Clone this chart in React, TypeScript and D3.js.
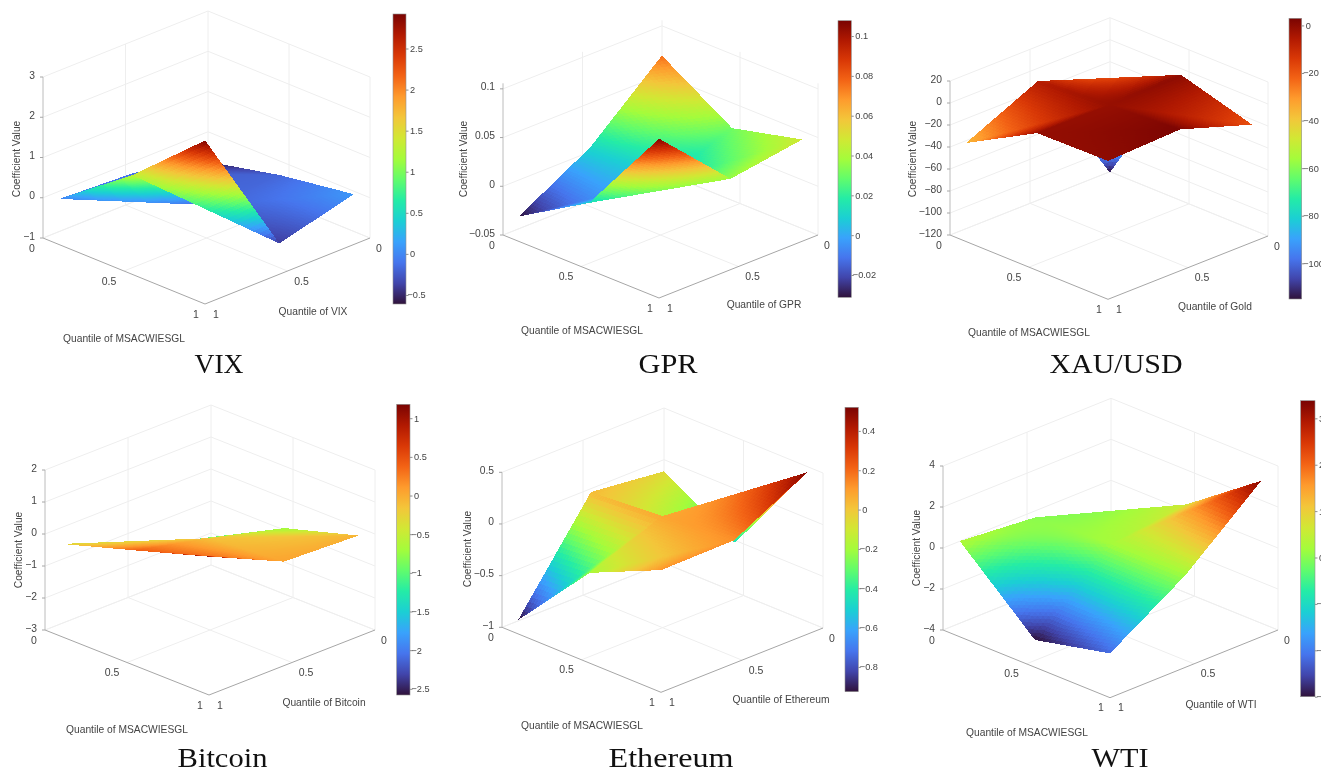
import * as d3 from 'd3'
import { useRef, useEffect } from 'react'

// quantile grid of the estimated surfaces
const msQuantiles = [0.05, 0.5, 0.95]
const otherQuantiles = [0.05, 0.5, 0.95]

// coefficient surfaces, rows = MSACWIESGL quantile, columns = asset quantile
const vixSurface = [[-0.58, -0.12, -0.03], [-0.18, -0.18, 1.3], [0.09, -0.4, 2.9]]
const gprSurface = [[0.076, 0.011, -0.031], [0.0306, 0.005, 0.012], [0.048, 0.0368, 0.107]]
const goldSurface = [[-115, -5.9, -36.4], [0.2, -1.3, -1], [-18.8, 2.7, 0]]
const bitcoinSurface = [[-2.55, -1.3, -0.31], [-0.73, -0.13, 0.4], [-0.05, 0.05, 1.12]]
const ethereumSurface = [[-0.05, 0.03, -0.93], [-0.455, 0.08, -0.19], [0.506, 0.128, 0.12]]
const wtiSurface = [[-1.5, 0.01, 0.34], [0.64, 0.2, -3], [3.28, 0.17, -2.17]]

const vixTicks = [-1, 0, 1, 2, 3]
const gprTicks = [-0.05, 0, 0.05, 0.1]
const goldTicks = [-120, -100, -80, -60, -40, -20, 0, 20]
const bitcoinTicks = [-3, -2, -1, 0, 1, 2]
const ethereumTicks = [-1, -0.5, 0, 0.5]
const wtiTicks = [-4, -2, 0, 2, 4]

const vixBarTicks = [-0.5, 0, 0.5, 1, 1.5, 2, 2.5]
const gprBarTicks = [-0.02, 0, 0.02, 0.04, 0.06, 0.08, 0.1]
const goldBarTicks = [-100, -80, -60, -40, -20, 0]
const bitcoinBarTicks = [-2.5, -2, -1.5, -1, -0.5, 0, 0.5, 1]
const ethereumBarTicks = [-0.8, -0.6, -0.4, -0.2, 0, 0.2, 0.4]
const wtiBarTicks = [-3, -2, -1, 0, 1, 2, 3]

const floorTicks = [0, 0.5, 1]
const turboStops = ['#30123b', '#4145ab', '#4675ed', '#39a2fc', '#1bcfd4', '#24eca6', '#61fc6c', '#a4fc3b', '#d1e834', '#f3c63a', '#fe9b2d', '#f36315', '#d93806', '#b11901', '#7a0402']

const panels = [
  { title: 'VIX', titleWidth: 49, other: 'VIX', surface: vixSurface, zTicks: vixTicks, zDomain: [-1, 3], barDomain: [-0.61, 2.92], barTicks: vixBarTicks,
    left: [43, 238], front: [205, 304], right: [370, 238], zHeight: 161, bar: [393, 14, 13, 290],
    titleAt: [219, 373], zAt: [16, 159], msAt: [124, 338], otherAt: [313, 311] },
  { title: 'GPR', titleWidth: 59, other: 'GPR', surface: gprSurface, zTicks: gprTicks, zDomain: [-0.05, 0.1057], barDomain: [-0.0312, 0.1077], barTicks: gprBarTicks,
    left: [503, 235], front: [659, 298], right: [818, 235], zHeight: 151.7, bar: [838, 20.7, 13.3, 276.6],
    titleAt: [668, 373], zAt: [463, 159], msAt: [582, 330], otherAt: [764, 304] },
  { title: 'XAU/USD', titleWidth: 133, other: 'Gold', surface: goldSurface, zTicks: goldTicks, zDomain: [-120, 20], barDomain: [-115, 3], barTicks: goldBarTicks,
    left: [950, 235], front: [1108, 299.3], right: [1268, 236], zHeight: 154, bar: [1289, 18.3, 12.7, 280.7],
    titleAt: [1116, 373], zAt: [912, 159], msAt: [1029, 332], otherAt: [1215, 306] },
  { title: 'Bitcoin', titleWidth: 90, other: 'Bitcoin', surface: bitcoinSurface, zTicks: bitcoinTicks, zDomain: [-3, 2], barDomain: [-2.58, 1.18], barTicks: bitcoinBarTicks,
    left: [45, 630], front: [209, 695], right: [375, 630], zHeight: 160, bar: [396.7, 404.3, 13.3, 290.7],
    titleAt: [222.5, 767], zAt: [18, 550], msAt: [127, 729], otherAt: [324, 702] },
  { title: 'Ethereum', titleWidth: 125, other: 'Ethereum', surface: ethereumSurface, zTicks: ethereumTicks, zDomain: [-1, 0.5], barDomain: [-0.926, 0.52], barTicks: ethereumBarTicks,
    left: [502, 627.3], front: [661, 692.3], right: [823, 628], zHeight: 155, bar: [845, 407.3, 13.3, 284.4],
    titleAt: [671, 767], zAt: [467, 549], msAt: [582, 725], otherAt: [781, 699] },
  { title: 'WTI', titleWidth: 57, other: 'WTI', surface: wtiSurface, zTicks: wtiTicks, zDomain: [-4, 4], barDomain: [-3, 3.38], barTicks: wtiBarTicks,
    left: [943, 630], front: [1110, 697.7], right: [1278, 630], zHeight: 164, bar: [1300.7, 400.7, 14.3, 296],
    titleAt: [1120, 767], zAt: [916, 548], msAt: [1027, 732], otherAt: [1221, 704] },
]

const sans = '"Liberation Sans", Arial, sans-serif'
const fmt = (d: number) => String(d).replace('-', '\u2212')

function addBlur(defs: any, id: string, amount: number) {
  defs.append('filter').attr('id', id)
    .attr('filterUnits', 'userSpaceOnUse').attr('x', 0).attr('y', 0).attr('width', 1321).attr('height', 769)
    .attr('color-interpolation-filters', 'sRGB')
    .append('feGaussianBlur').attr('stdDeviation', amount)
}

function drawPanel(svg: any, p: any, idx: number) {
  const g = svg.append('g').attr('filter', 'url(#soft)')

  // oblique projection of the box, back corner sits at ms=0, other=0
  const msX = d3.scaleLinear().domain([0, 1]).range([p.left[0], p.front[0]])
  const msY = d3.scaleLinear().domain([0, 1]).range([p.left[1], p.front[1]])
  const otherX = d3.scaleLinear().domain([1, 0]).range([0, p.right[0] - p.front[0]])
  const otherY = d3.scaleLinear().domain([1, 0]).range([0, p.right[1] - p.front[1]])
  const zY = d3.scaleLinear().domain(p.zDomain).range([0, -p.zHeight])
  const project = (ms: number, o: number, z: number): [number, number] => [msX(ms) + otherX(o), msY(ms) + otherY(o) + zY(z)]

  const zMin = p.zDomain[0]
  const zMax = p.zDomain[1]
  const line = d3.line()
  const seg = (pts: [number, number, number][], stroke: string, width = 1) =>
    g.append('path').attr('d', line(pts.map(d => project(d[0], d[1], d[2]))))
      .attr('fill', 'none').attr('stroke', stroke).attr('stroke-width', width)

  // walls and floor grid
  const gridColor = '#eeeeee'
  p.zTicks.forEach((z: number) => seg([[0, 1, z], [0, 0, z], [1, 0, z]], gridColor))
  seg([[0, 0.5, zMin], [0, 0.5, zMax]], gridColor)
  seg([[0.5, 0, zMin], [0.5, 0, zMax]], gridColor)
  seg([[0, 0, zMin], [0, 0, zMax]], gridColor)
  seg([[1, 0, zMin], [1, 0, zMax]], gridColor)
  seg([[0, 0, zMin], [0, 1, zMin]], gridColor)
  seg([[0, 0, zMin], [1, 0, zMin]], gridColor)
  seg([[0, 0.5, zMin], [1, 0.5, zMin]], gridColor)
  seg([[0.5, 0, zMin], [0.5, 1, zMin]], gridColor)

  // axes
  const axisColor = '#a6a6a6'
  seg([[0, 1, zMin], [1, 1, zMin], [1, 0, zMin]], axisColor)
  seg([[0, 1, zMin], [0, 1, zMax]], '#bcbcbc')

  const textColor = '#444'
  p.zTicks.forEach((z: number) => {
    const [x, y] = project(0, 1, z)
    g.append('line').attr('x1', x - 3).attr('x2', x).attr('y1', y).attr('y2', y).attr('stroke', axisColor)
    g.append('text').attr('x', x - 8).attr('y', y + 1.5).attr('text-anchor', 'end')
      .attr('font-family', sans).attr('font-size', 10.3).attr('fill', textColor).text(fmt(z))
  })
  floorTicks.forEach(t => {
    const [ax, ay] = project(t, 1, zMin)
    const [bx, by] = project(1, t, zMin)
    const dxA = t === 0 ? -11 : t === 1 ? -9 : -15
    const dxB = t === 0 ? 9 : t === 1 ? 11 : 14
    g.append('text').attr('x', ax + dxA).attr('y', ay + 13.5).attr('text-anchor', 'middle')
      .attr('font-family', sans).attr('font-size', 10.5).attr('fill', textColor).text(fmt(t))
    g.append('text').attr('x', bx + dxB).attr('y', by + 13.5).attr('text-anchor', 'middle')
      .attr('font-family', sans).attr('font-size', 10.5).attr('fill', textColor).text(fmt(t))
  })

  // surface: folded along the cell diagonals, split in small facets, painted back to front.
  // colour is half the flat triangle value, half the bilinear value of the cell, softens the folds
  const color = d3.scaleSequential(d3.piecewise(d3.interpolateRgb, turboStops)).domain(p.barDomain)
  const node = (i: number, j: number) => [msQuantiles[i], otherQuantiles[j], p.surface[i][j]]
  const n = 28
  const facets: { pts: number[][], c: string, depth: number }[] = []
  d3.range(msQuantiles.length - 1).forEach(i => {
    d3.range(otherQuantiles.length - 1).forEach(j => {
      const a = node(i, j), b = node(i, j + 1), c = node(i + 1, j), d = node(i + 1, j + 1)
      const bilinear = (ms: number, o: number) => {
        const s = (ms - a[0]) / (c[0] - a[0])
        const r = (o - a[1]) / (b[1] - a[1])
        return (1 - s) * ((1 - r) * a[2] + r * b[2]) + s * ((1 - r) * c[2] + r * d[2])
      }
      ;[[a, b, c], [d, b, c]].forEach(t => {
        const pick = (u: number, v: number) => {
          const w = n - u - v
          return [0, 1, 2].map(k => (t[0][k] * u + t[1][k] * v + t[2][k] * w) / n)
        }
        const add = (pts: number[][]) => {
          const m = [0, 1, 2].map(k => d3.mean(pts, q => q[k]) as number)
          facets.push({ pts, c: color(0.5 * m[2] + 0.5 * bilinear(m[0], m[1])) as string, depth: m[0] + m[1] })
        }
        for (let u = 0; u < n; u++) {
          for (let v = 0; v < n - u; v++) {
            add([pick(u, v), pick(u + 1, v), pick(u, v + 1)])
            if (u + v < n - 1) add([pick(u + 1, v), pick(u + 1, v + 1), pick(u, v + 1)])
          }
        }
      })
    })
  })
  facets.sort((a, b) => a.depth - b.depth)
  g.append('g').attr('filter', 'url(#soft-surface)').attr('shape-rendering', 'crispEdges')
    .selectAll('polygon').data(facets).enter().append('polygon')
    .attr('points', (d: any) => d.pts.map((q: number[]) => project(q[0], q[1], q[2]).map(v => v.toFixed(2)).join(',')).join(' '))
    .attr('fill', (d: any) => d.c)

  // axis titles
  const label = (at: number[], text: string, rotate = false) => {
    const t = g.append('text').attr('text-anchor', 'middle').attr('font-family', sans)
      .attr('font-size', 10.25).attr('fill', '#444').text(text)
    if (rotate) t.attr('transform', `translate(${at[0] + 3.5},${at[1]}) rotate(-90)`)
    else t.attr('x', at[0]).attr('y', at[1] + 3.5)
  }
  label(p.zAt, 'Coefficient Value', true)
  label(p.msAt, 'Quantile of MSACWIESGL')
  label(p.otherAt, `Quantile of ${p.other}`)

  // colour bar
  const [bx, by, bw, bh] = p.bar
  const barY = d3.scaleLinear().domain(p.barDomain).range([by + bh, by])
  const gradId = `bar-${idx}`
  const grad = g.append('linearGradient').attr('id', gradId).attr('x1', 0).attr('x2', 0).attr('y1', 1).attr('y2', 0)
  turboStops.forEach((c, i) => grad.append('stop').attr('offset', i / (turboStops.length - 1)).attr('stop-color', c))
  g.append('rect').attr('x', bx).attr('y', by).attr('width', bw).attr('height', bh)
    .attr('fill', `url(#${gradId})`).attr('stroke', '#8f8f8f').attr('stroke-width', 0.6)
  const barAxis = g.append('g').attr('transform', `translate(${bx + bw},0)`)
    .call(d3.axisRight(barY).tickValues(p.barTicks).tickSize(2.5).tickFormat((d: any) => fmt(d)))
  barAxis.select('.domain').remove()
  barAxis.selectAll('line').attr('stroke', '#8f8f8f')
  barAxis.selectAll('text').attr('font-family', sans).attr('font-size', 9.2).attr('fill', textColor)
    .attr('x', (d: any) => (d < 0 ? 1.5 : 4))

  g.append('text').attr('x', p.titleAt[0]).attr('y', p.titleAt[1]).attr('text-anchor', 'middle')
    .attr('font-family', '"Liberation Serif", "Times New Roman", serif').attr('font-size', 27).attr('fill', '#111')
    .attr('textLength', p.titleWidth).attr('lengthAdjust', 'spacingAndGlyphs')
    .text(p.title)
}

export default function App() {
  const svgRef = useRef<SVGSVGElement>(null)

  useEffect(() => {
    const svg = d3.select(svgRef.current)
    svg.selectAll('*').remove()
    const defs = svg.append('defs')
    addBlur(defs, 'soft', 0.45)
    addBlur(defs, 'soft-surface', 0.7)
    panels.forEach((p, i) => drawPanel(svg, p, i))
  }, [])

  return (
    <svg ref={svgRef} width={1321} height={769} style={{ position: 'absolute', left: 0, top: 0, background: '#fff' }}></svg>
  )
}
